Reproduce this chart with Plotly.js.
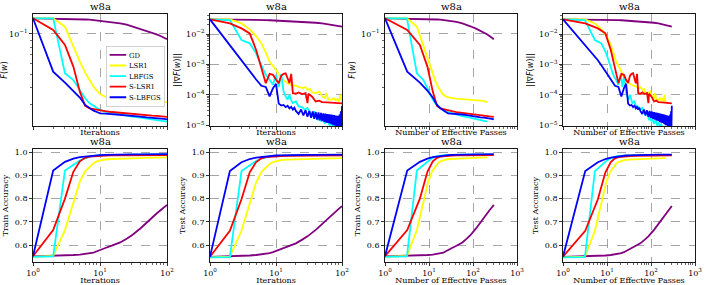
<!DOCTYPE html>
<html><head><meta charset="utf-8">
<script src="https://cdn.plot.ly/plotly-3.0.1.min.js"></script>
<style>html,body{margin:0;padding:0;background:#fff}#chart{width:706px;height:285px}</style>
</head><body><div id="chart"></div>
<script>
// ---------------- data ----------------
const METHODS = ['GD', 'LSR1', 'LBFGS', 'S-LSR1', 'S-LBFGS'];
const COLORS = ['#800080', '#ffff00', '#00ffff', '#ff0000', '#0000ff'];
const DATASET = 'w8a';

// iteration samples shared by loss / accuracy curves
const IT = [1,2,3,4,5,6,7,8,9,10,12,15,20,25,30,40,50,60,70,80,90,100];
// effective passes at those iterations
const PASS_A = [1,3.15,5.3,7.45,9.6,11.75,13.9,16.05,18.2,20.35,24.65,31.1,41.85,52.6,63.35,84.85,106.35,127.85,149.35,170.85,192.35,213.85]; // LSR1, LBFGS
const PASS_S = [1,3.2,6.2,9.2,12.2,15.2,18.2,21.2,24.2,27.2,33.2,42.2,57.2,72.2,87.2,117.2,147.2,177.2,207.2,237.2,267.2,297.2]; // GD, S-LSR1, S-LBFGS

// F(w)
const F_GD     = [0.1306,0.1302,0.1299,0.1291,0.1284,0.1280,0.1277,0.1269,0.1262,0.1255,0.1245,0.1227,0.1200,0.1172,0.1140,0.1095,0.1059,0.1023,0.0994,0.0966,0.0939,0.0913];
const F_LSR1   = [0.1306,0.1306,0.1133,0.0806,0.0624,0.0517,0.0449,0.0407,0.0380,0.0359,0.0343,0.0336,0.0332,0.0330,0.0328,0.0328,0.0326,0.0324,0.0323,0.0319,0.0315,0.0312];
const F_LBFGS  = [0.1306,0.1306,0.0511,0.0456,0.0385,0.0334,0.0306,0.0293,0.0281,0.0274,0.0266,0.0260,0.0254,0.0248,0.0244,0.0240,0.0236,0.0233,0.0231,0.0228,0.0225,0.0224];
const F_SLSR1  = [0.1306,0.1071,0.0829,0.0573,0.0374,0.0293,0.0281,0.0277,0.0274,0.0270,0.0268,0.0264,0.0260,0.0257,0.0255,0.0253,0.0250,0.0248,0.0247,0.0245,0.0244,0.0243];
const F_SLBFGS = [0.1306,0.0526,0.0436,0.0380,0.0338,0.0298,0.0281,0.0270,0.0264,0.0258,0.0257,0.0255,0.0253,0.0250,0.0247,0.0244,0.0241,0.0240,0.0239,0.0236,0.0235,0.0233];

// ||grad F(w)||
const G_GD = [0.0303,0.0303,0.0299,0.0295,0.0295,0.0291,0.0288,0.0284,0.0281,0.0277,0.0274,0.0267,0.0260,0.0254,0.0247,0.0235,0.0224,0.0213,0.0202,0.0192,0.0183,0.0174];

const GIT_LSR1 = [1,2,3,4,5,6,7,8,10,12,15,17,20,25,28,30,33,35,40,45,50,55,58,62,70,75,80,85,90,95,100];
const GP_LSR1  = [1,3.15,5.3,7.45,9.6,11.75,13.9,16.05,20.35,24.65,31.1,35.4,41.85,52.6,59.05,63.35,69.8,74.1,84.85,95.6,106.35,117.1,123.55,132.15,149.35,160.1,170.85,181.6,192.35,203.1,213.85];
const G_LSR1   = [0.0303,0.0303,0.0224,0.01422,8.6e-3,4.94e-3,2.44e-3,1.24e-3,6.6e-4,3.52e-4,2.41e-4,2.13e-4,1.97e-4,1.65e-4,1.78e-4,1.46e-4,1.53e-4,1.19e-4,1.13e-4,1.29e-4,8.8e-5,7.8e-5,1.13e-4,6.9e-5,6.9e-5,7.8e-5,6.5e-5,7.2e-5,6.0e-5,1.0e-4,5.6e-5];

const GIT_LBFGS = [1,2,3,4,5,6,7,8,9,10,11,12,13,14,15,16,17,18,20,22,25,27,30,33,35,38,40,43,45,48,50,55,60,65,70,75,80,85,90,95,100];
const GP_LBFGS  = [1,3.15,5.3,7.45,9.6,11.75,13.9,16.05,18.2,20.35,22.5,24.65,26.8,28.95,31.1,33.25,35.4,37.55,41.85,46.15,52.6,56.9,63.35,69.8,74.1,80.55,84.85,91.3,95.6,102.05,106.35,117.1,127.85,138.6,149.35,160.1,170.85,181.6,192.35,203.1,213.85];
const G_LBFGS   = [0.0303,0.0288,6.36e-3,4.94e-3,2.32e-3,9.6e-4,4.53e-4,3.10e-4,2.13e-4,4.53e-4,1.78e-4,4.88e-4,1.29e-4,8.8e-5,6.9e-5,1.0e-4,6.5e-5,5.3e-5,6.0e-5,4.14e-5,3.94e-5,3.22e-5,3.66e-5,2.51e-5,2.05e-5,2.84e-5,2.21e-5,1.44e-5,1.95e-5,1.34e-5,1.72e-5,1.12e-5,1.51e-5,9.6e-6,1.24e-5,8.1e-6,1.12e-5,7.1e-6,9.2e-6,6.3e-6,8.1e-6];

const GIT_SLSR1 = [1,2,3,4,5,6,7,8,9,10,11,12,13,14,15,16,17,18,20,22,25,28,30,31,35,40,45,50,60,70,80,90,100];
const GP_SLSR1  = [1,3.2,6.2,9.2,12.2,15.2,18.2,21.2,24.2,27.2,30.2,33.2,36.2,39.2,42.2,45.2,48.2,51.2,57.2,63.2,72.2,81.2,87.2,90.2,102.2,117.2,132.2,147.2,177.2,207.2,237.2,267.2,297.2];
const G_SLSR1   = [0.0303,0.0224,0.01535,0.01052,2.99e-3,7.5e-4,2.41e-4,4.88e-4,4.53e-4,3.10e-4,2.41e-4,4.2e-4,4.88e-4,5.1e-4,3.52e-4,2.41e-4,4.88e-4,1.13e-4,1.08e-4,1.19e-4,1.05e-4,1.13e-4,5.3e-5,1.08e-4,8.8e-5,6.0e-5,6.4e-5,5.75e-5,5.6e-5,5.47e-5,5.3e-5,5.3e-5,5.2e-5];

const GIT_SLBFGS = [1,2,3,4,5,6,7,8,9,10,11,12,13,14,15,16,17,18,19,20,22,24,26,28,30,32,34,36,38,40,42,44,46,48,50,52,54,56,58,60,62,64,66,68,70,72,74,76,78,80,82,84,86,88,90,92,94,96,98,100];
const GP_SLBFGS  = [1,3.2,6.2,9.2,12.2,15.2,18.2,21.2,24.2,27.2,30.2,33.2,36.2,39.2,42.2,45.2,48.2,51.2,54.2,57.2,63.2,69.2,75.2,81.2,87.2,93.2,99.2,105.2,111.2,117.2,123.2,129.2,135.2,141.2,147.2,153.2,159.2,165.2,171.2,177.2,183.2,189.2,195.2,201.2,207.2,213.2,219.2,225.2,231.2,237.2,243.2,249.2,255.2,261.2,267.2,273.2,279.2,285.2,291.2,297.2];
const G_SLBFGS   = [0.0303,4.14e-3,1.37e-3,5.97e-4,3.18e-4,1.97e-4,1.8e-4,8.8e-5,1.64e-4,2.3e-4,5.1e-5,4.4e-5,4.6e-5,3.9e-5,4.36e-5,3.56e-5,3.98e-5,3.22e-5,3.75e-5,2.92e-5,
  2.33e-5,3.26e-5,2.10e-5,3.06e-5,1.87e-5,2.92e-5,1.74e-5,2.80e-5,1.60e-5,2.69e-5,1.51e-5,2.60e-5,1.42e-5,2.51e-5,1.36e-5,2.44e-5,1.27e-5,2.38e-5,1.21e-5,2.32e-5,
  1.17e-5,2.26e-5,1.11e-5,2.21e-5,1.05e-5,2.16e-5,9.98e-6,2.12e-5,9.7e-6,2.08e-5,9.4e-6,2.04e-5,9.2e-6,2.01e-5,8.9e-6,2.21e-5,8.5e-6,2.84e-5,8.1e-6,4.36e-5];

// Train accuracy
const TR_GD     = [0.552,0.554,0.556,0.558,0.560,0.562,0.564,0.568,0.574,0.580,0.588,0.598,0.612,0.628,0.643,0.672,0.699,0.718,0.736,0.750,0.762,0.773];
const TR_LSR1   = [0.550,0.554,0.665,0.780,0.873,0.917,0.938,0.952,0.960,0.964,0.968,0.970,0.972,0.973,0.973,0.974,0.975,0.975,0.976,0.976,0.977,0.977];
const TR_LBFGS  = [0.550,0.552,0.921,0.945,0.963,0.974,0.980,0.983,0.985,0.986,0.987,0.988,0.988,0.989,0.989,0.989,0.989,0.990,0.990,0.990,0.990,0.990];
const TR_SLSR1  = [0.553,0.665,0.800,0.915,0.960,0.975,0.980,0.982,0.983,0.984,0.985,0.986,0.986,0.987,0.987,0.987,0.987,0.987,0.987,0.987,0.987,0.987];
const TR_SLBFGS = [0.553,0.921,0.958,0.972,0.978,0.981,0.983,0.985,0.986,0.987,0.988,0.989,0.990,0.990,0.990,0.990,0.990,0.990,0.991,0.991,0.991,0.991];

// Test accuracy
const TE_GD     = [0.550,0.552,0.554,0.556,0.558,0.560,0.563,0.566,0.570,0.575,0.583,0.594,0.608,0.624,0.638,0.666,0.692,0.712,0.730,0.745,0.757,0.768];
const TE_LSR1   = [0.548,0.551,0.662,0.775,0.870,0.914,0.935,0.949,0.957,0.961,0.965,0.967,0.969,0.970,0.970,0.971,0.972,0.972,0.973,0.973,0.974,0.974];
const TE_LBFGS  = [0.548,0.549,0.918,0.943,0.961,0.972,0.978,0.981,0.983,0.984,0.985,0.986,0.986,0.987,0.987,0.987,0.987,0.988,0.988,0.988,0.988,0.988];
const TE_SLSR1  = [0.551,0.662,0.797,0.913,0.957,0.973,0.978,0.980,0.981,0.982,0.983,0.984,0.984,0.985,0.985,0.985,0.985,0.985,0.986,0.986,0.986,0.986];
const TE_SLBFGS = [0.551,0.918,0.956,0.970,0.976,0.979,0.981,0.983,0.984,0.985,0.986,0.987,0.988,0.988,0.988,0.988,0.989,0.989,0.989,0.989,0.989,0.989];

// tick labels
const LOGX2_VALS = [1,10,100];
const LOGX2_TEXT = ['10<sup>0</sup>','10<sup>1</sup>','10<sup>2</sup>'];
const LOGX3_VALS = [1,10,100,1000];
const LOGX3_TEXT = ['10<sup>0</sup>','10<sup>1</sup>','10<sup>2</sup>','10<sup>3</sup>'];
const F_TICKVALS = [0.1];
const F_TICKTEXT = ['10<sup>\u22121</sup>'];
const G_TICKVALS = [1e-5,1e-4,1e-3,1e-2];
const G_TICKTEXT = ['10<sup>\u22125</sup>','10<sup>\u22124</sup>','10<sup>\u22123</sup>','10<sup>\u22122</sup>'];
const ACC_TICKVALS = [0.6,0.7,0.8,0.9,1.0];
const ACC_TICKTEXT = ['0.6','0.7','0.8','0.9','1.0'];

// minor tick positions on log axes (2..9 per decade)
const MINOR_LOG = [];
for (let e = -6; e <= 3; e++) for (let m = 2; m <= 9; m++) MINOR_LOG.push(m * Math.pow(10, e));

// ---------------- layout helpers ----------------
const W = 706, H = 285;
const SERIF = 'DejaVu Serif, serif';
const COLS = [[33,167],[210,342],[385,517],[563,695]];
const ROWS = [[14,126],[149,262]];
const dom = (a,b,s) => [a/s, b/s];
const ydom = (t,b) => [1 - b/H, 1 - t/H];

const gridStyle = {showgrid:true, gridcolor:'#808080', gridwidth:0.7, griddash:'dash'};
const lineStyle = {showline:true, linecolor:'#000', linewidth:0.9, mirror:true, zeroline:false,
  ticks:'outside', ticklen:3, tickwidth:0.8, tickcolor:'#000',
  tickfont:{family:SERIF, size:8, color:'#000'}};
const minorLog = {tickmode:'array', tickvals:MINOR_LOG, ticks:'outside', ticklen:2, tickwidth:0.6, tickcolor:'#000', showgrid:false};

const LEG_SCALE = 0.55;
const LINE_W = 1.8;
const layout = {
  width:W, height:H, margin:{l:0,r:0,t:0,b:0}, autosize:false,
  paper_bgcolor:'#fff', plot_bgcolor:'#fff', showlegend:true,
  font:{family:SERIF, color:'#000'},
  legend:{x:0.2, xanchor:'left', y:0.8, yanchor:'top', bgcolor:'rgba(255,255,255,0.9)',
    bordercolor:'#cccccc', borderwidth:1.6, font:{family:SERIF, size:12.5, color:'#000'},
    itemwidth:30, tracegroupgap:0},
  annotations:[]
};

const xTitles = ['Iterations','Iterations','Number of Effective Passes','Number of Effective Passes'];
const yTitlesTop = ['<i>F</i>(<i>w</i>)','||\u2207<i>F</i>(<i>w</i>)||','<i>F</i>(<i>w</i>)','||\u2207<i>F</i>(<i>w</i>)||'];
const yTitlesBot = ['Train Accuracy','Test Accuracy','Train Accuracy','Test Accuracy'];

for (let r = 0; r < 2; r++) {
  for (let c = 0; c < 4; c++) {
    const k = r*4 + c + 1;
    const xk = 'xaxis' + (k === 1 ? '' : k), yk = 'yaxis' + (k === 1 ? '' : k);
    const xr = c < 2 ? [0,2] : [0,3];
    const xv = c < 2 ? LOGX2_VALS : LOGX3_VALS;
    const xt = c < 2 ? LOGX2_TEXT : LOGX3_TEXT;
    layout[xk] = Object.assign({}, lineStyle, gridStyle, {
      type:'log', range:xr, domain:dom(COLS[c][0], COLS[c][1], W), anchor:'y' + (k === 1 ? '' : k),
      tickmode:'array', tickvals:xv, ticktext:xt, showticklabels: r === 1,
      minor:minorLog,
      title:{text:xTitles[c], font:{family:SERIF, size:8, color:'#000'}, standoff: r === 1 ? 3 : 0}
    });
    let ycfg;
    if (r === 0) {
      const isF = (c % 2 === 0);
      ycfg = {type:'log', range: isF ? [-1.682,-0.852] : [-5.03,-1.34],
        tickmode:'array', tickvals: isF ? F_TICKVALS : G_TICKVALS, ticktext: isF ? F_TICKTEXT : G_TICKTEXT,
        minor:minorLog, title:{text:yTitlesTop[c], font:{family:'DejaVu Sans, sans-serif', size:8, color:'#000'}, standoff:4}};
    } else {
      ycfg = {type:'linear', range:[0.528,1.013], tickmode:'array', tickvals:ACC_TICKVALS, ticktext:ACC_TICKTEXT,
        title:{text:yTitlesBot[c], font:{family:SERIF, size:8, color:'#000'}, standoff:4}};
    }
    layout[yk] = Object.assign({}, lineStyle, gridStyle, ycfg, {
      domain:ydom(ROWS[r][0], ROWS[r][1]), anchor:'x' + (k === 1 ? '' : k)});
    layout.annotations.push({text:DATASET, xref:'paper', yref:'paper',
      x:(COLS[c][0]+COLS[c][1])/2/W, y:1-ROWS[r][0]/H, xanchor:'center', yanchor:'bottom', yshift:0,
      showarrow:false, font:{family:SERIF, size:10, color:'#000'}});
  }
}

// ---------------- traces ----------------
const F_ALL  = [F_GD, F_LSR1, F_LBFGS, F_SLSR1, F_SLBFGS];
const PASS_ALL = [PASS_S, PASS_A, PASS_A, PASS_S, PASS_S];
const G_IT   = [IT, GIT_LSR1, GIT_LBFGS, GIT_SLSR1, GIT_SLBFGS];
const G_PASS = [PASS_S, GP_LSR1, GP_LBFGS, GP_SLSR1, GP_SLBFGS];
const G_ALL  = [G_GD, G_LSR1, G_LBFGS, G_SLSR1, G_SLBFGS];
const TR_ALL = [TR_GD, TR_LSR1, TR_LBFGS, TR_SLSR1, TR_SLBFGS];
const TE_ALL = [TE_GD, TE_LSR1, TE_LBFGS, TE_SLSR1, TE_SLBFGS];

const panels = [
  (m) => [IT, F_ALL[m]],
  (m) => [G_IT[m], G_ALL[m]],
  (m) => [PASS_ALL[m], F_ALL[m]],
  (m) => [G_PASS[m], G_ALL[m]],
  (m) => [IT, TR_ALL[m]],
  (m) => [IT, TE_ALL[m]],
  (m) => [PASS_ALL[m], TR_ALL[m]],
  (m) => [PASS_ALL[m], TE_ALL[m]]
];

const traces = [];
panels.forEach((fn, p) => {
  const k = p + 1;
  METHODS.forEach((name, m) => {
    const [x, y] = fn(m);
    traces.push({type:'scatter', mode:'lines', x:x, y:y, name:name,
      xaxis:'x' + (k === 1 ? '' : k), yaxis:'y' + (k === 1 ? '' : k),
      line:{color:COLORS[m], width:LINE_W}, showlegend: k === 1, legendgroup:name,
      cliponaxis:true});
  });
});

// shrink the Plotly legend to the compact matplotlib-like size, anchored at its top-right corner
function fitLegend() {
  const leg = document.querySelector('#chart .legend');
  if (!leg) return;
  const bg = leg.querySelector('rect.bg');
  const w = bg ? parseFloat(bg.getAttribute('width')) : 100;
  const right = 164, top = 46;
  leg.setAttribute('transform', 'translate(' + (right - w * LEG_SCALE) + ',' + top + ') scale(' + LEG_SCALE + ')');
  // keep legend sample lines as thick as the plotted lines after scaling
  leg.querySelectorAll('.legendlines path, .legendsymbols path').forEach(p => {
    p.style.strokeWidth = (LINE_W / LEG_SCALE) + 'px';
  });
}

Plotly.newPlot('chart', traces, layout, {staticPlot:true, displayModeBar:false}).then(fitLegend);
</script></body></html>
